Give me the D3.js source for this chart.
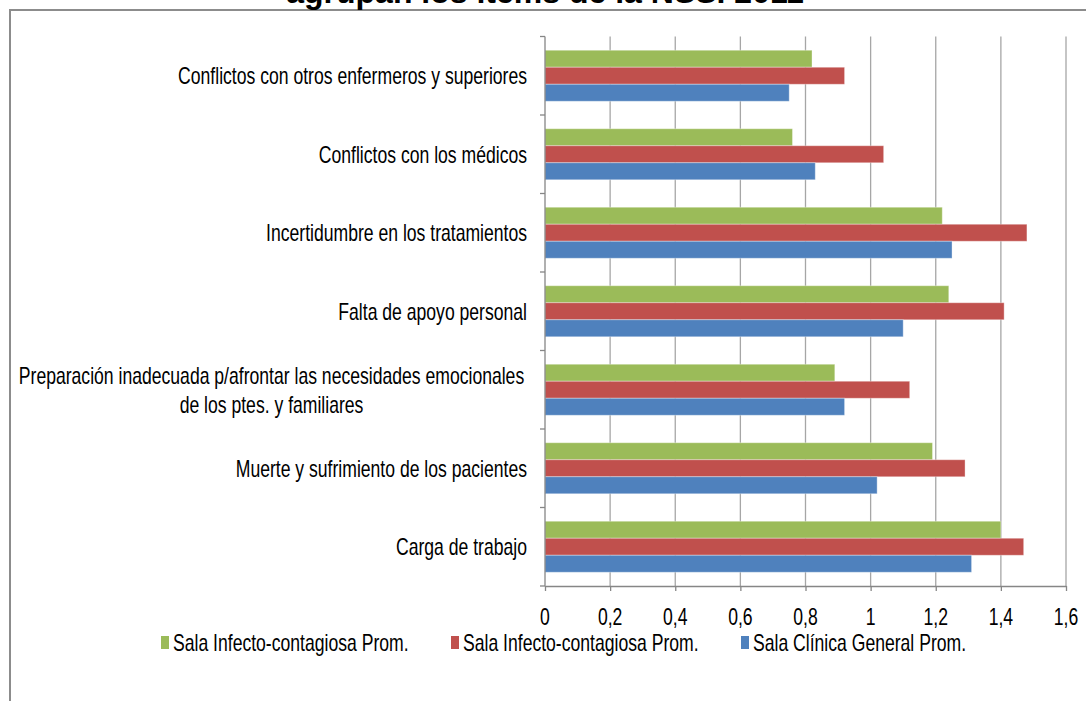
<!DOCTYPE html>
<html><head><meta charset="utf-8">
<script src="https://cdn.jsdelivr.net/npm/d3@7/dist/d3.min.js"></script>
<style>body{margin:0;background:#fff;overflow:hidden}</style>
</head><body>
<svg id="c" width="1086" height="701"></svg>
<script>
const title = "agrupan los ítems de la NSS. 2011";
const categories = [
  "Conflictos con otros enfermeros y superiores",
  "Conflictos con los médicos",
  "Incertidumbre en los tratamientos",
  "Falta de apoyo personal",
  "Preparación inadecuada p/afrontar las necesidades emocionales\nde los ptes. y familiares",
  "Muerte y sufrimiento de los pacientes",
  "Carga de trabajo"
];
const seriesNames = ["Sala Infecto-contagiosa Prom.", "Sala Infecto-contagiosa Prom.", "Sala Clínica General Prom."];
const seriesColors = ["#9BBB59", "#C0504D", "#4F81BD"];
const greenValues = [0.82, 0.76, 1.22, 1.24, 0.89, 1.19, 1.40];
const redValues   = [0.92, 1.04, 1.48, 1.41, 1.12, 1.29, 1.47];
const blueValues  = [0.75, 0.83, 1.25, 1.10, 0.92, 1.02, 1.31];
const xTicks = [0, 0.2, 0.4, 0.6, 0.8, 1, 1.2, 1.4, 1.6];

const seriesValues = [greenValues, redValues, blueValues];
const svg = d3.select("#c");
const FONT = "'Liberation Sans', Arial, sans-serif";
const FS = 23;
const plot = {left: 545, right: 1066, top: 36.5, bottom: 586};

// calibrate horizontal compression for the condensed label look
const probe = svg.append("text").attr("font-family", FONT).attr("font-size", FS).text(categories[0]);
const sx = 349 / probe.node().getComputedTextLength();
probe.remove();

function label(g, x, y, txt, anchor) {
  return g.append("text")
    .attr("transform", `translate(${x},${y}) scale(${sx},1)`)
    .attr("font-family", FONT).attr("font-size", FS).attr("fill", "#000")
    .attr("text-anchor", anchor).attr("dominant-baseline", "central")
    .text(txt);
}

// outer frame
svg.append("path").attr("d", "M10,701 L10,10 L1086,10").attr("fill", "none")
  .attr("stroke", "#8c8c8c").attr("stroke-width", 2);

// title (cut off at the top, as in the source picture)
svg.append("text").attr("x", 545).attr("y", 2.5).attr("text-anchor", "middle")
  .attr("font-family", FONT).attr("font-weight", "bold").attr("font-size", 32)
  .attr("fill", "#000").text(title);

const x = d3.scaleLinear().domain([0, 1.6]).range([plot.left, plot.right]);
const y = d3.scaleBand().domain(categories).range([plot.top, plot.bottom])
  .paddingInner(0.35).paddingOuter(0.175);
const ySub = d3.scaleBand().domain([0, 1, 2]).range([0, y.bandwidth()]);

// gridlines
svg.append("g").selectAll("line").data(xTicks.slice(1)).join("line")
  .attr("x1", d => x(d)).attr("x2", d => x(d))
  .attr("y1", plot.top).attr("y2", plot.bottom)
  .attr("stroke", "#a6a6a6").attr("stroke-width", 1.3);

// bars
const groups = svg.append("g").selectAll("g").data(categories).join("g")
  .attr("transform", c => `translate(0,${y(c)})`);
groups.each(function(c, i) {
  d3.select(this).selectAll("rect").data(seriesValues.map((s, k) => ({k, v: s[i]}))).join("rect")
    .attr("x", x(0)).attr("y", d => ySub(d.k))
    .attr("width", d => x(d.v) - x(0)).attr("height", ySub.bandwidth())
    .attr("fill", d => seriesColors[d.k])
    .attr("stroke", "rgba(255,255,255,0.35)").attr("stroke-width", 1);
});

// y axis
const axisColor = "#868686";
svg.append("line").attr("x1", plot.left).attr("x2", plot.left)
  .attr("y1", plot.top).attr("y2", plot.bottom).attr("stroke", axisColor).attr("stroke-width", 1.3);
const boundaries = d3.range(categories.length + 1).map(i => y.range()[0] + i * y.step());
svg.append("g").selectAll("line").data(boundaries).join("line")
  .attr("x1", plot.left - 5).attr("x2", plot.left).attr("y1", d => d).attr("y2", d => d)
  .attr("stroke", axisColor).attr("stroke-width", 1.3);

const ylab = svg.append("g");
categories.forEach(c => {
  const lines = c.split("\n");
  const cy = y(c) + y.bandwidth() / 2;
  if (lines.length === 1) {
    label(ylab, 527, cy, c, "end");
  } else {
    const lh = 29;
    const w0 = 499; // width of the longest line
    const cx = 521 - w0 / 2;
    lines.forEach((ln, j) => label(ylab, cx, cy + (j - (lines.length - 1) / 2) * lh, ln, "middle"));
  }
});

// x axis
const loc = d3.formatLocale({decimal: ",", thousands: ".", grouping: [3], currency: ["", ""]});
const fmt = loc.format("~g");
const xAxis = svg.append("g").attr("transform", `translate(0,${plot.bottom})`)
  .call(d3.axisBottom(x).tickValues(xTicks).tickSize(5).tickSizeOuter(0).tickFormat(""));
xAxis.select(".domain").attr("stroke", axisColor).attr("stroke-width", 1.3);
xAxis.selectAll(".tick line").attr("stroke", axisColor).attr("stroke-width", 1.3);
const xlab = svg.append("g");
xTicks.forEach(t => label(xlab, x(t), 617, fmt(t), "middle"));

// legend
const legendX = [161, 451, 741];
const leg = svg.append("g");
seriesNames.forEach((n, k) => {
  leg.append("rect").attr("x", legendX[k]).attr("y", 636).attr("width", 8).attr("height", 13)
    .attr("fill", seriesColors[k]);
  label(leg, legendX[k] + 12, 643, n, "start");
});
</script>
</body></html>
